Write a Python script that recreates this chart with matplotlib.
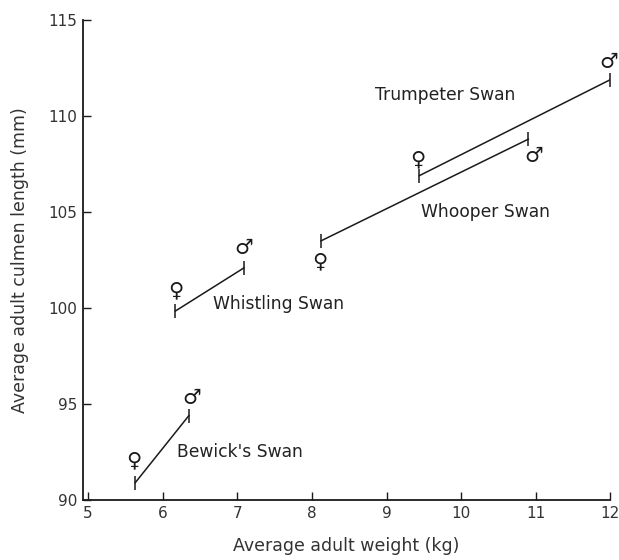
import matplotlib
matplotlib.use("Agg")
import matplotlib.pyplot as plt

# ---- data ----
species = ["Bewick's Swan", "Whistling Swan", "Whooper Swan", "Trumpeter Swan"]
female_weight = [5.63, 6.17, 8.12, 9.44]
female_culmen = [90.9, 99.85, 103.5, 106.9]
male_weight = [6.35, 7.09, 10.90, 12.0]
male_culmen = [94.4, 102.1, 108.8, 111.9]

x_ticks = [5, 6, 7, 8, 9, 10, 11, 12]
y_ticks = [90, 95, 100, 105, 110, 115]

# label placement (data coords) and symbol offsets (points)
label_pos = [(7.04, 92.5), (7.55, 100.2), (10.32, 105.0), (9.79, 111.1)]
female_off = [(-1, 16), (0, 15), (-1, -15), (-1, 12)]
male_off = [(2, 13), (0, 14), (4, -12), (-1, 13)]

plt.rcParams['font.family'] = ['DejaVu Sans']

fig = plt.figure(figsize=(6.19, 5.6), dpi=100)
ax = fig.add_axes([0.134, 0.107, 0.852, 0.857])

ink = "#1a1a1a"
for i, name in enumerate(species):
    ax.plot([female_weight[i], male_weight[i]], [female_culmen[i], male_culmen[i]],
            color=ink, lw=1.1, marker='|', markersize=10, markeredgewidth=1.1)
    ax.annotate("\u2640", (female_weight[i], female_culmen[i]), xytext=female_off[i],
                textcoords="offset points", ha="center", va="center",
                fontsize=15, color=ink)
    ax.annotate("\u2642", (male_weight[i], male_culmen[i]), xytext=male_off[i],
                textcoords="offset points", ha="center", va="center",
                fontsize=15, color=ink)
    ax.text(label_pos[i][0], label_pos[i][1], name, ha="center", va="center",
            fontsize=12.3, color="#222222")

ax.set_xlim(4.93, 12.0)
ax.set_ylim(90, 115)
ax.set_xticks(x_ticks)
ax.set_yticks(y_ticks)
ax.spines['top'].set_visible(False)
ax.spines['right'].set_visible(False)
for s in ('left', 'bottom'):
    ax.spines[s].set_linewidth(1.3)
    ax.spines[s].set_color(ink)
ax.tick_params(direction='in', length=6, width=1.0, colors=ink,
               labelcolor="#333333", labelsize=11, pad=4)
ax.set_xlabel("Average adult weight (kg)", fontsize=12.5, color="#333333", labelpad=12)
ax.set_ylabel("Average adult culmen length (mm)", fontsize=12.5, color="#333333", labelpad=14)

fig.savefig("out.png", dpi=100)
